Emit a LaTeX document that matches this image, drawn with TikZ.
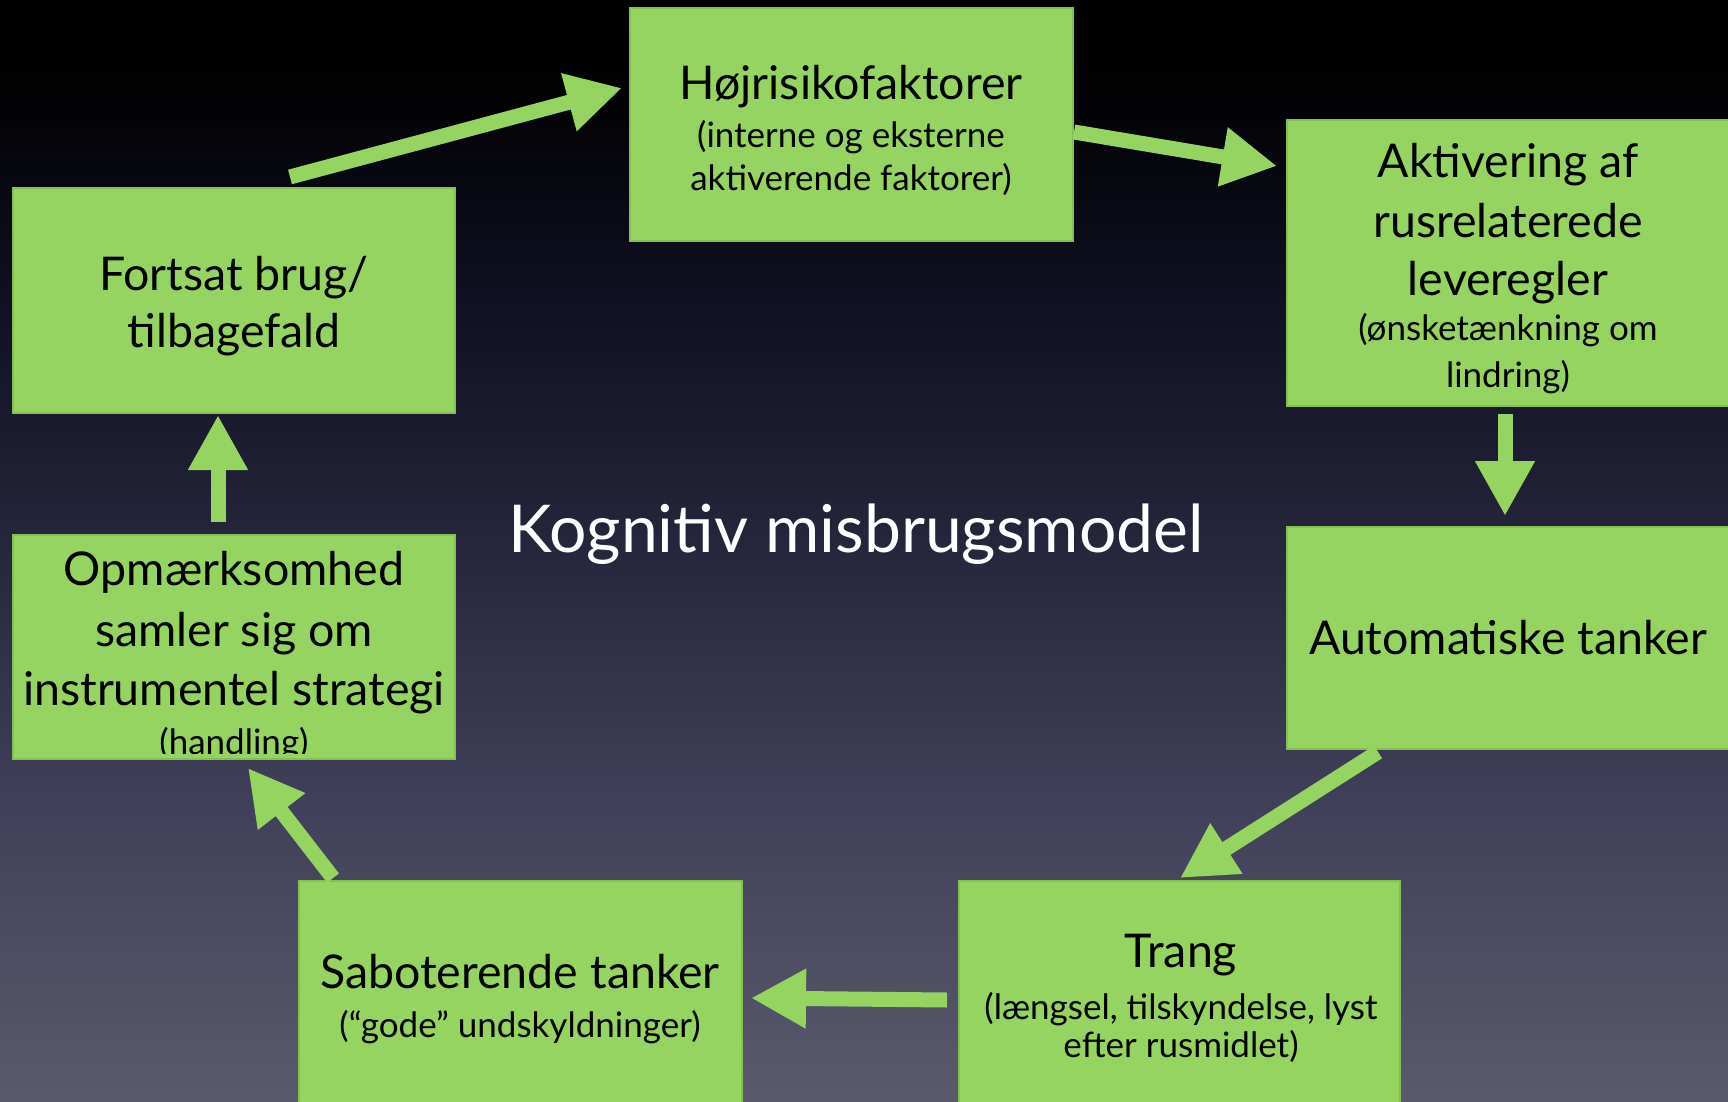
\documentclass[tikz,border=0pt]{standalone}
\usepackage{fontspec}
\setmainfont{Lato}
\usetikzlibrary{arrows.meta}
\definecolor{boxgreen}{HTML}{96D461}
\definecolor{boxedge}{HTML}{86C055}
\definecolor{bgA}{HTML}{5A5A6C}
\definecolor{bgB}{HTML}{40405A}
\definecolor{bgC}{HTML}{26263C}
\definecolor{bgD}{HTML}{101022}
\definecolor{bgE}{HTML}{020204}
\pgfdeclareverticalshading{bgshade}{100bp}{color(0bp)=(bgA); color(25bp)=(bgA); color(38.5bp)=(bgB); color(50bp)=(bgC); color(61.5bp)=(bgD); color(70.5bp)=(bgE); color(75bp)=(black); color(100bp)=(black)}
\tikzset{
  gbox/.style={draw=boxedge, line width=1.5pt, fill=boxgreen, inner sep=0pt, outer sep=0pt, anchor=north west},
  mainline/.style={anchor=base, inner sep=0pt, font=\fontsize{46.5}{56}\selectfont, text=black},
  subline/.style={anchor=base, inner sep=0pt, font=\fontsize{35}{42}\selectfont, text=black},
  titletext/.style={anchor=base, inner sep=0pt, font=\fontsize{66}{79}\selectfont, text=white},
  garrow/.style={draw=boxgreen, line width=15pt, -{Triangle[width=56pt,length=55pt]}}
}
\begin{document}
\begin{tikzpicture}[x=1pt,y=-1pt]
\useasboundingbox (0,0) rectangle (1728,1102);
\clip (0,0) rectangle (1728,1102);
\shade[shading=bgshade] (0,0) rectangle (1728,1102);

% boxes
\node[gbox, minimum width=443pt, minimum height=233pt] (hoj) at (630,8) {};
\node[gbox, minimum width=460pt, minimum height=286pt] (akt) at (1287,120) {};
\node[gbox, minimum width=460pt, minimum height=222pt] (aut) at (1287,527) {};
\node[gbox, minimum width=441pt, minimum height=240pt] (trang) at (959,881) {};
\node[gbox, minimum width=443pt, minimum height=240pt] (sab) at (299,881) {};
\node[gbox, minimum width=442pt, minimum height=224pt] (opm) at (13,535) {};
\node[gbox, minimum width=442pt, minimum height=225pt] (fort) at (13,188) {};

% texts
\node[mainline] (hojA) at (851,100) {Højrisikofaktorer};
\node[subline] (hojB) at (851,148) {(interne og eksterne};
\node[subline] (hojC) at (851,190) {aktiverende faktorer)};

\node[mainline] (aktA) at (1508,178) {Aktivering af};
\node[mainline] (aktB) at (1508,237) {rusrelaterede};
\node[mainline] (aktC) at (1508,295) {leveregler};
\node[subline] (aktD) at (1508,340) {(ønsketænkning om};
\node[subline] (aktE) at (1508,387) {lindring)};

\node[mainline] (autA) at (1508,654) {Automatiske tanker};

\node[mainline] (trA) at (1181,967) {Trang};
\node[subline] (trB) at (1181,1019) {(længsel, tilskyndelse, lyst};
\node[subline] (trC) at (1181,1057) {efter rusmidlet)};

\node[mainline] (sabA) at (520,988) {Saboterende tanker};
\node[subline] (sabB) at (520,1037) {(“gode” undskyldninger)};

\node[mainline] (opmA) at (234,585) {Opmærksomhed};
\node[mainline] (opmB) at (234,646) {samler sig om};
\node[mainline] (opmC) at (234,705) {instrumentel strategi};
\begin{scope}
\clip (opm.north west) rectangle ([yshift=6pt]opm.south east);
\node[subline] (opmD) at (234,754) {(handling)};
\end{scope}

\node[mainline] (fortA) at (234,290) {Fortsat brug/};
\node[mainline] (fortB) at (234,347) {tilbagefald};

\node[titletext] (title) at (856,552) {Kognitiv misbrugsmodel};

% arrow end points
\coordinate (a1s) at (290,177);  \coordinate (a1e) at (622,88);
\coordinate (a2s) at (1074,132); \coordinate (a2e) at (1277,166);
\coordinate (a3s) at (1505,414); \coordinate (a3e) at (1505,516);
\coordinate (a4s) at (1378,752); \coordinate (a4e) at (1180,878);
\coordinate (a5s) at (947,1000); \coordinate (a5e) at (751,998);
\coordinate (a6s) at (333,878);  \coordinate (a6e) at (248,768);
\coordinate (a7s) at (218,522);  \coordinate (a7e) at (218,415);

\draw[garrow] (a1s) -- (a1e);
\draw[garrow] (a2s) -- (a2e);
\draw[garrow] (a3s) -- (a3e);
\draw[garrow] (a4s) -- (a4e);
\draw[garrow] (a5s) -- (a5e);
\draw[garrow] (a6s) -- (a6e);
\draw[garrow] (a7s) -- (a7e);
\end{tikzpicture}
\end{document}
